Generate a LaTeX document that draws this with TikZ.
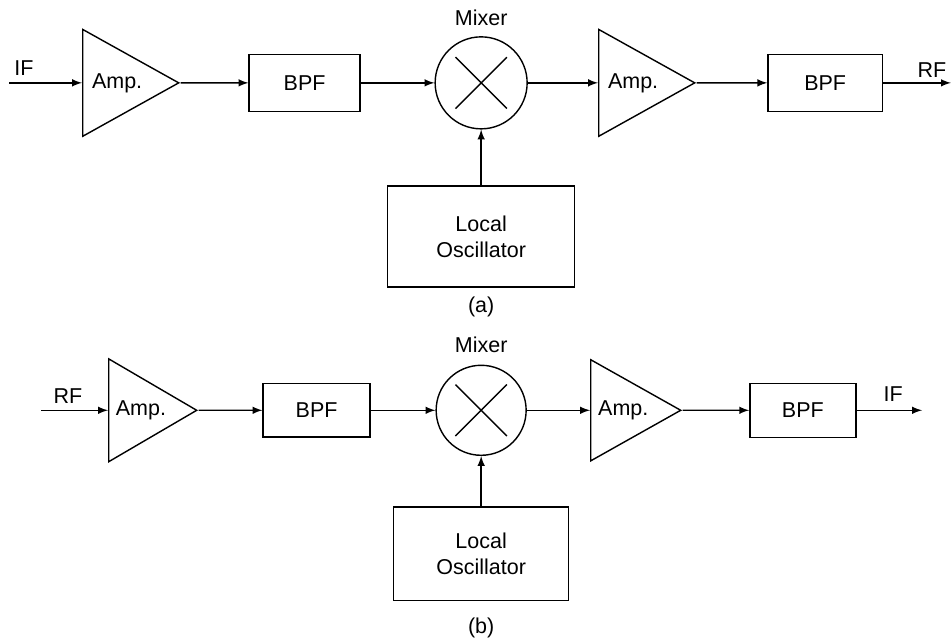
\documentclass[tikz,border=0pt]{standalone}
\usepackage{fontspec}
\setmainfont{Liberation Sans}
\usetikzlibrary{shapes.geometric}
\newcommand{\blkfont}{\fontsize{10.7}{12.7}\selectfont}
\begin{document}
\begin{tikzpicture}
  \tikzstyle{amp}=[draw, line width=0.7pt, isosceles triangle, isosceles triangle stretches, shape border rotate=0, inner sep=0pt, anchor=west, font=\blkfont]
  \tikzstyle{bpf}=[draw, line width=0.7pt, minimum height=1.0cm, font=\blkfont]
  \tikzstyle{mix}=[draw, line width=0.7pt, circle, inner sep=0pt, path picture={\draw[line width=0.7pt] (path picture bounding box.center) +(-0.45,0.45) -- +(0.45,-0.45) (path picture bounding box.center) +(-0.45,-0.45) -- +(0.45,0.45);}]
  \tikzstyle{lo}=[draw, line width=0.7pt, align=center, font=\blkfont]
  \tikzstyle{lab}=[font=\blkfont, inner sep=1pt]
  \tikzstyle{arr}=[->, >=latex, line width=0.7pt]

  \useasboundingbox (0,0) rectangle (16.66,-11.2);

  % Parte (a): de IF para RF, linha do sinal em y = -1,45
  \coordinate (ina) at (0.16,-1.45);
  \node[amp, minimum height=1.68cm, minimum width=1.87cm] (ampa1) at (1.435,-1.45) {Amp.};
  \node[bpf, minimum width=1.94cm] (bpfa1) at (5.33,-1.45) {BPF};
  \node[mix, minimum size=1.61cm] (mixa) at (8.42,-1.45) {};
  \node[lab] (mixlaba) at (8.42,-0.32) {Mixer};
  \node[amp, minimum height=1.68cm, minimum width=1.87cm] (ampa2) at (10.465,-1.45) {Amp.};
  \node[bpf, minimum width=2.0cm] (bpfa2) at (14.44,-1.45) {BPF};
  \coordinate (outa) at (16.64,-1.45);
  \node[lab] (ifa) at (0.42,-1.19) {IF};
  \node[lab] (rfa) at (16.31,-1.225) {RF};
  \node[lo, minimum width=3.27cm, minimum height=1.77cm] (loa) at (8.42,-4.14) {Local\\Oscillator};
  \node[lab] (capa) at (8.42,-5.37) {(a)};

  \draw[arr] (ina) -- (ampa1.west);
  \draw[arr] (ampa1.apex) -- (bpfa1);
  \draw[arr] (bpfa1) -- (mixa);
  \draw[arr] (mixa) -- (ampa2.west);
  \draw[arr] (ampa2.apex) -- (bpfa2);
  \draw[arr] (bpfa2) -- (outa);
  \draw[arr] (loa) -- (mixa);

  % Parte (b): de RF para IF, linha do sinal em y = -7,18
  \coordinate (inb) at (0.72,-7.18);
  \node[amp, minimum height=1.54cm, minimum width=1.8cm] (ampb1) at (1.89,-7.18) {Amp.};
  \node[bpf, minimum width=1.87cm, minimum height=0.93cm] (bpfb1) at (5.54,-7.18) {BPF};
  \node[mix, minimum size=1.575cm] (mixb) at (8.42,-7.18) {};
  \node[lab] (mixlabb) at (8.42,-6.04) {Mixer};
  \node[amp, minimum height=1.575cm, minimum width=1.77cm] (ampb2) at (10.325,-7.18) {Amp.};
  \node[bpf, minimum width=1.855cm, minimum height=0.945cm] (bpfb2) at (14.05,-7.18) {BPF};
  \coordinate (outb) at (16.135,-7.18);
  \node[lab] (rfb) at (1.19,-6.93) {RF};
  \node[lab] (ifb) at (15.63,-6.9) {IF};
  \node[lo, minimum width=3.06cm, minimum height=1.63cm] (lob) at (8.42,-9.69) {Local\\Oscillator};
  \node[lab] (capb) at (8.42,-10.99) {(b)};

  \draw[arr] (inb) -- (ampb1.west);
  \draw[arr] (ampb1.apex) -- (bpfb1);
  \draw[arr] (bpfb1) -- (mixb);
  \draw[arr] (mixb) -- (ampb2.west);
  \draw[arr] (ampb2.apex) -- (bpfb2);
  \draw[arr] (bpfb2) -- (outb);
  \draw[arr] (lob) -- (mixb);
\end{tikzpicture}
\end{document}
